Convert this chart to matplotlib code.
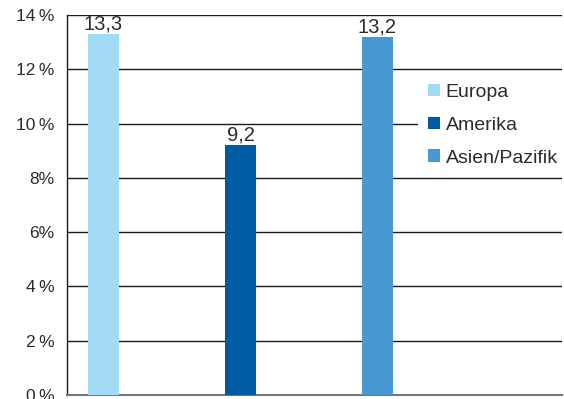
import matplotlib.pyplot as plt
from matplotlib.patches import Patch

# Werte je Region (in %)
regions = ['Europa', 'Amerika', 'Asien/Pazifik']
values = [13.3, 9.2, 13.2]
colors = ['#A4DBF4', '#005CA2', '#4A98D1']
yticks = [0, 2, 4, 6, 8, 10, 12, 14]
ytick_labels = ['0\u2009%', '2\u2009%', '4\u2009%', '6%', '8%', '10\u2009%', '12\u2009%', '14\u2009%']

plt.rcParams['font.family'] = ['Liberation Sans', 'DejaVu Sans']
text_color = '#2b2b2b'

fig = plt.figure(figsize=(5.64, 3.99), dpi=100)
ax = fig.add_axes([0.1188, 0.010, 0.8777, 0.9524])

x = list(range(len(regions)))
bars = ax.bar(x, values, width=0.226, color=colors, zorder=3)

for xi, v in zip(x, values):
    ax.text(xi, v + 0.02, f'{v:.1f}'.replace('.', ','), ha='center', va='bottom',
            fontsize=14.5, color=text_color, zorder=4)

ax.set_xlim(-0.266, 3.347)
ax.set_ylim(0, 14)
ax.set_xticks([])
ax.set_yticks(yticks)
ax.set_yticklabels(ytick_labels)
ax.tick_params(axis='y', length=0, pad=9, labelsize=12.5, labelcolor=text_color)

ax.grid(axis='y', color='#1a1a1a', linewidth=1.0, zorder=1)
ax.set_axisbelow(True)
for s in ['top', 'right']:
    ax.spines[s].set_visible(False)
ax.spines['left'].set_color('#1a1a1a')
ax.spines['left'].set_linewidth(1.0)
ax.spines['bottom'].set_color('#777777')
ax.spines['bottom'].set_linewidth(1.5)

handles = [Patch(facecolor=c, edgecolor='none', label=r) for r, c in zip(regions, colors)]
leg = ax.legend(handles=handles, loc='upper left', bbox_to_anchor=(0.709, 0.845),
                frameon=True, fontsize=14, handlelength=0.62, handleheight=0.62,
                handletextpad=0.31, labelspacing=0.81, borderpad=0.5, borderaxespad=0)
leg.get_frame().set_facecolor('white')
leg.get_frame().set_edgecolor('none')
leg.get_frame().set_alpha(1)
leg.set_zorder(5)
for t in leg.get_texts():
    t.set_color(text_color)

fig.savefig('out.png', dpi=100)
